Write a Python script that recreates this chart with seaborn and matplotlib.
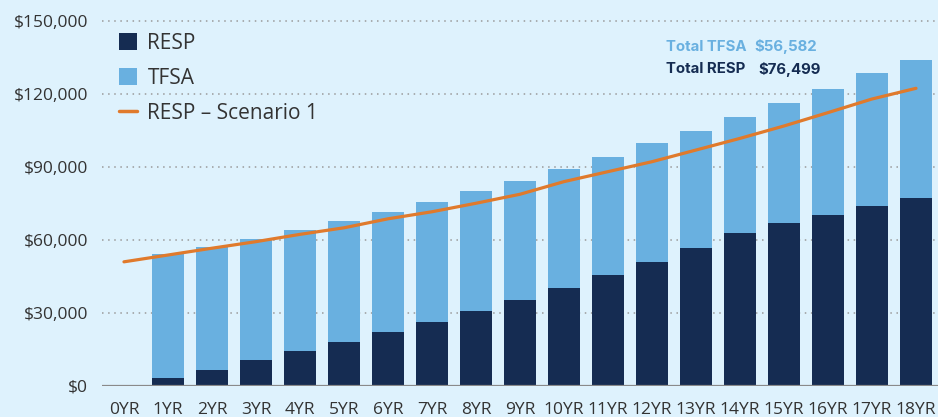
import matplotlib

matplotlib.use("Agg")
import matplotlib.pyplot as plt
import pandas as pd
import seaborn as sns
from matplotlib.lines import Line2D
from matplotlib.patches import Patch
from matplotlib.ticker import FuncFormatter

years = [f"{i}YR" for i in range(19)]
resp = [0, 3200, 6500, 10300, 14000, 17800, 21900, 26000, 30500, 35200,
        40200, 45600, 50900, 56700, 62800, 67000, 70300, 74000, 77000]
tfsa = [0, 50900, 50600, 50100, 50100, 50000, 49700, 49700, 49600, 49100,
        49100, 48600, 48700, 48200, 47900, 49400, 51900, 54400, 56800]
scenario1 = [50900, 53700, 56500, 59200, 62200, 64900, 68600, 71500, 75000, 78700,
             83900, 88000, 92100, 96900, 101700, 106800, 112300, 117900, 122300]
y_ticks = [0, 30000, 60000, 90000, 120000, 150000]

BG = "#def2fd"
NAVY = "#152c52"
SKY = "#69b0e0"
ORANGE = "#e07a2c"
TEXT = "#333333"


def main() -> int:
    df = pd.DataFrame({"year": years, "resp": resp, "tfsa": tfsa, "scenario": scenario1})
    df["total"] = df["resp"] + df["tfsa"]

    sns.set_theme(style="white")
    plt.rcParams["font.family"] = ["Open Sans", "DejaVu Sans"]

    fig = plt.figure(figsize=(9.38, 4.17), dpi=100, facecolor=BG)
    ax = fig.add_axes([0.1087, 0.0755, 0.8913, 0.8858])
    ax.set_facecolor(BG)

    for y in y_ticks[1:]:
        ax.axhline(y, color="#9a9a9a", lw=1.1, ls=(0, (1, 3)), zorder=0)

    sns.barplot(data=df, x="year", y="total", color=SKY, width=0.73,
                saturation=1, linewidth=0, ax=ax, zorder=2)
    sns.barplot(data=df, x="year", y="resp", color=NAVY, width=0.73,
                saturation=1, linewidth=0, ax=ax, zorder=3)
    sns.lineplot(x=range(len(years)), y=df["scenario"], color=ORANGE, lw=2.3,
                 ax=ax, zorder=4)

    ax.axhline(0, color="#8a8a8a", lw=1.6, zorder=5)

    ax.set_xlim(-0.5, 18.5)
    ax.set_ylim(0, 152000)
    ax.set_yticks(y_ticks)
    ax.yaxis.set_major_formatter(FuncFormatter(lambda v, _: f"${v:,.0f}"))
    ax.set_xticks(range(len(years)))
    ax.set_xticklabels(years)
    ax.set_xlabel("")
    ax.set_ylabel("")
    ax.tick_params(axis="both", length=0, labelsize=12.5, labelcolor=TEXT)
    ax.tick_params(axis="y", pad=10)
    ax.tick_params(axis="x", pad=12)
    sns.despine(ax=ax, left=True, bottom=True)

    handles = [
        Patch(facecolor=NAVY, edgecolor="none", label="RESP"),
        Patch(facecolor=SKY, edgecolor="none", label="TFSA"),
        Line2D([], [], color=ORANGE, lw=2.5, label="RESP \u2013 Scenario 1"),
    ]
    leg = ax.legend(handles=handles, loc="upper left", bbox_to_anchor=(0.127, 0.922),
                    bbox_transform=fig.transFigure, frameon=False, fontsize=15,
                    handlelength=0.86, handleheight=0.86, handletextpad=0.5,
                    labelspacing=0.68, borderaxespad=0, borderpad=0)
    for t in leg.get_texts():
        t.set_color(TEXT)

    note_font = ["Inter", "DejaVu Sans"]
    fig.text(0.710, 0.888, "Total TFSA", color=SKY, fontsize=10.8, weight="bold",
             family=note_font, va="center")
    fig.text(0.804, 0.888, "$56,582", color=SKY, fontsize=10.8, weight="bold",
             family=note_font, va="center")
    fig.text(0.710, 0.834, "Total RESP", color=NAVY, fontsize=10.8, weight="bold",
             family=note_font, va="center")
    fig.text(0.809, 0.834, "$76,499", color=NAVY, fontsize=10.8, weight="bold",
             family=note_font, va="center")

    fig.savefig("out.png", dpi=100, facecolor=BG)
    plt.close(fig)
    return 0


if __name__ == "__main__":
    raise SystemExit(main())
